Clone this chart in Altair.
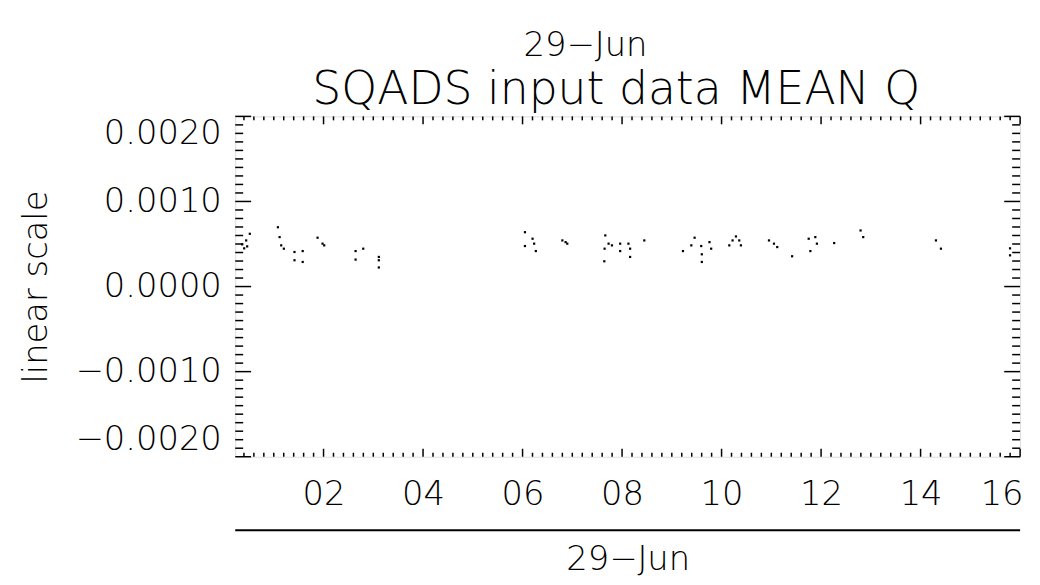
import altair as alt
import pandas as pd

# ---- data (hours of 29-Jun, MEAN Q) ----
hours = [0.365, 0.405, 0.445, 0.518, 0.465, 1.083, 1.117, 1.149, 1.202, 1.416,
         1.416, 1.581, 1.581, 1.880, 1.980, 2.014, 2.644, 2.644, 2.798, 3.111,
         3.111, 3.111, 6.048, 6.048, 6.201, 6.233, 6.267, 6.800, 6.865, 6.899,
         7.663, 7.729, 7.649, 7.797, 7.643, 7.962, 7.962, 8.128, 8.162, 8.162,
         8.447, 9.224, 9.458, 9.392, 9.591, 9.757, 9.791, 9.603, 9.603, 10.155,
         10.221, 10.289, 10.355, 10.389, 10.953, 11.053, 11.119, 11.418, 11.751, 11.884,
         11.916, 11.785, 12.263, 12.794, 12.847, 14.309, 14.409, 15.798, 15.798]
mean_q = [0.000496, 0.000449, 0.000542, 0.000620, 0.000472, 0.000697, 0.000581, 0.000484, 0.000445, 0.000406,
          0.000309, 0.000417, 0.000289, 0.000574, 0.000504, 0.000484, 0.000417, 0.000317, 0.000445, 0.000348,
          0.000309, 0.000224, 0.000639, 0.000476, 0.000562, 0.000504, 0.000417, 0.000542, 0.000522, 0.000504,
          0.000601, 0.000504, 0.000445, 0.000484, 0.000297, 0.000504, 0.000417, 0.000504, 0.000445, 0.000348,
          0.000542, 0.000417, 0.000574, 0.000484, 0.000476, 0.000522, 0.000445, 0.000379, 0.000289, 0.000484,
          0.000542, 0.000589, 0.000542, 0.000484, 0.000542, 0.000504, 0.000464, 0.000356, 0.000562, 0.000581,
          0.000504, 0.000417, 0.000511, 0.000659, 0.000581, 0.000542, 0.000445, 0.000449, 0.000367]

x_domain = [0.225, 16.0]
y_domain = [-0.002, 0.002]
x_major = [2, 4, 6, 8, 10, 12, 14, 16]
x_minor = [round(0.2 * i, 1) for i in range(2, 80) if i % 10 != 0]
y_major = [-0.002, -0.001, 0.0, 0.001, 0.002]
y_minor = [round(0.0001 * i, 4) for i in range(-19, 20) if i % 10 != 0]

date_label = "29−Jun"
main_title = "SQADS input data MEAN Q"
y_title = "linear scale"

W, H = 791, 343
FONT = "DejaVu Sans"
LINE_Y = 417  # separator line below the tick labels

df = pd.DataFrame({"hour": hours, "q": mean_q})

xs = alt.Scale(domain=x_domain, nice=False, zero=False)
ys = alt.Scale(domain=y_domain, nice=False, zero=False)

points = alt.Chart(df).mark_square(size=5, color="black", opacity=1).encode(
    x=alt.X("hour:Q", scale=xs,
            axis=alt.Axis(values=x_major, labelExpr="format(datum.value, '02d')",
                          ticks=False, domain=False, grid=False,
                          labelFlush=True, labelFlushOffset=3, labelOverlap=False,
                          labelFont=FONT, labelFontSize=34, labelFontWeight=200,
                          labelColor="black", labelPadding=21,
                          title=date_label, titleFont=FONT, titleFontSize=34,
                          titleFontWeight=200, titleColor="black", titlePadding=32)),
    y=alt.Y("q:Q", scale=ys,
            axis=alt.Axis(values=y_major, format=".4f",
                          ticks=False, domain=False, grid=False,
                          labelFlush=True, labelFlushOffset=0, labelOverlap=False,
                          labelFont=FONT, labelFontSize=34, labelFontWeight=200,
                          labelColor="black", labelPadding=14,
                          title=y_title, titleFont=FONT, titleFontSize=34,
                          titleFontWeight=200, titleColor="black", titlePadding=22)),
)


def xticks(vals, length, top):
    d = pd.DataFrame({"v": vals})
    y0 = 0 if top else H
    y1 = length if top else H - length
    return alt.Chart(d).mark_rule(color="black", strokeWidth=1.5).encode(
        x=alt.X("v:Q", scale=xs), y=alt.value(y0), y2=alt.value(y1))


def yticks(vals, length, right):
    d = pd.DataFrame({"v": vals})
    x0 = W if right else 0
    x1 = W - length if right else length
    return alt.Chart(d).mark_rule(color="black", strokeWidth=1.5).encode(
        y=alt.Y("v:Q", scale=ys), x=alt.value(x0), x2=alt.value(x1))


sep = alt.Chart(pd.DataFrame({"a": [0]})).mark_rule(color="black", strokeWidth=2).encode(
    x=alt.value(0), x2=alt.value(W), y=alt.value(LINE_Y))

top_date = alt.Chart(pd.DataFrame({"t": [date_label]})).mark_text(
    font=FONT, fontSize=34, fontWeight=200, color="black", align="center", baseline="alphabetic"
).encode(text="t:N", x=alt.value(353), y=alt.value(-61))

title_txt = alt.Chart(pd.DataFrame({"t": [main_title]})).mark_text(
    font=FONT, fontSize=46, fontWeight=200, color="black", align="center", baseline="alphabetic"
).encode(text="t:N", x=alt.value(384), y=alt.value(-12))

chart = alt.layer(
    points,
    xticks(x_major, 8, False), xticks(x_minor, 4, False),
    xticks(x_major, 8, True), xticks(x_minor, 4, True),
    yticks(y_major, 16, False), yticks(y_minor, 8, False),
    yticks(y_major, 16, True), yticks(y_minor, 8, True),
    sep, top_date, title_txt,
).properties(
    width=W, height=H,
    autosize=alt.AutoSizeParams(type="none"),
    padding={"left": 229, "top": 107, "right": 12, "bottom": 119},
).configure_view(stroke="black", strokeWidth=2).configure(background="white")

chart.save("out.html", embed_options={"renderer": "svg", "actions": False})
